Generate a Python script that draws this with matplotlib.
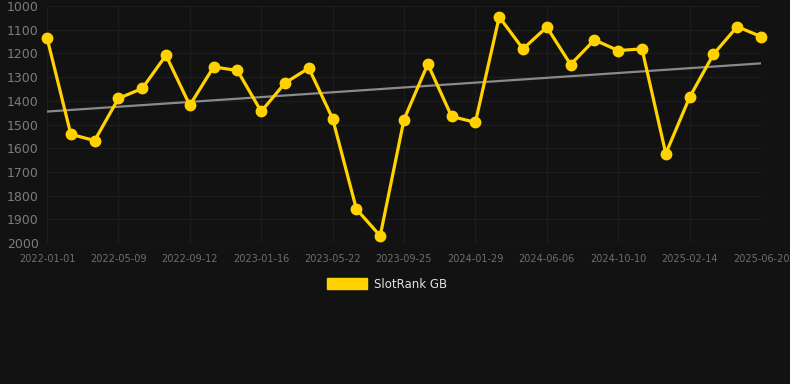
import numpy as np
import matplotlib
matplotlib.use("Agg")
import matplotlib.pyplot as plt
from matplotlib.patches import Patch

# SlotRank GB position over time (lower is better, axis inverted)
ranks = [1134, 1541, 1568, 1390, 1348, 1208, 1419, 1257, 1272, 1445,
         1325, 1262, 1475, 1857, 1970, 1479, 1245, 1466, 1491, 1046,
         1181, 1089, 1247, 1143, 1188, 1181, 1623, 1385, 1204, 1087, 1129]
tick_labels = ['2022-01-01', '2022-05-09', '2022-09-12', '2023-01-16', '2023-05-22',
               '2023-09-25', '2024-01-29', '2024-06-06', '2024-10-10', '2025-02-14',
               '2025-06-20']
y_ticks = [1000, 1100, 1200, 1300, 1400, 1500, 1600, 1700, 1800, 1900, 2000]

BG = '#121212'
GOLD = '#FFD200'

x = np.arange(len(ranks))

fig = plt.figure(figsize=(7.9, 3.84), dpi=100, facecolor=BG)
ax = fig.add_axes([47 / 790, 1 - 243 / 384, 714 / 790, 237 / 384])
ax.set_facecolor(BG)

# trend line (least squares fit)
slope, icpt = np.polyfit(x, ranks, 1)
ax.plot(x, slope * x + icpt, color='#8a8a8a', lw=1.6, zorder=2)

ax.plot(x, ranks, color=GOLD, lw=2.3, marker='o', ms=7.5, zorder=3, clip_on=False)

ax.set_xlim(0, len(ranks) - 1)
ax.set_ylim(2000, 1000)
ax.set_xticks(x[::3])
ax.set_xticklabels(tick_labels)
ax.set_yticks(y_ticks)

ax.grid(True, color='#1d1d1d', lw=0.9)
ax.set_axisbelow(True)
for s in ax.spines.values():
    s.set_visible(False)
ax.axhline(2000, color='#2a2a2a', lw=0.9, zorder=1)
ax.tick_params(axis='x', length=0, pad=8, labelsize=7, colors='#6e6e6e')
ax.tick_params(axis='y', length=0, pad=6, labelsize=9, colors='#7c7c7c')

handle = Patch(facecolor=GOLD, edgecolor=GOLD)
fig.legend([handle], ['SlotRank GB'], loc='center', bbox_to_anchor=(0.49, 1 - 284 / 384),
           frameon=False, fontsize=8.5, labelcolor='#e0e0e0',
           handlelength=3.4, handleheight=1.1, handletextpad=0.6)

fig.savefig('out.png', dpi=100, facecolor=BG)
